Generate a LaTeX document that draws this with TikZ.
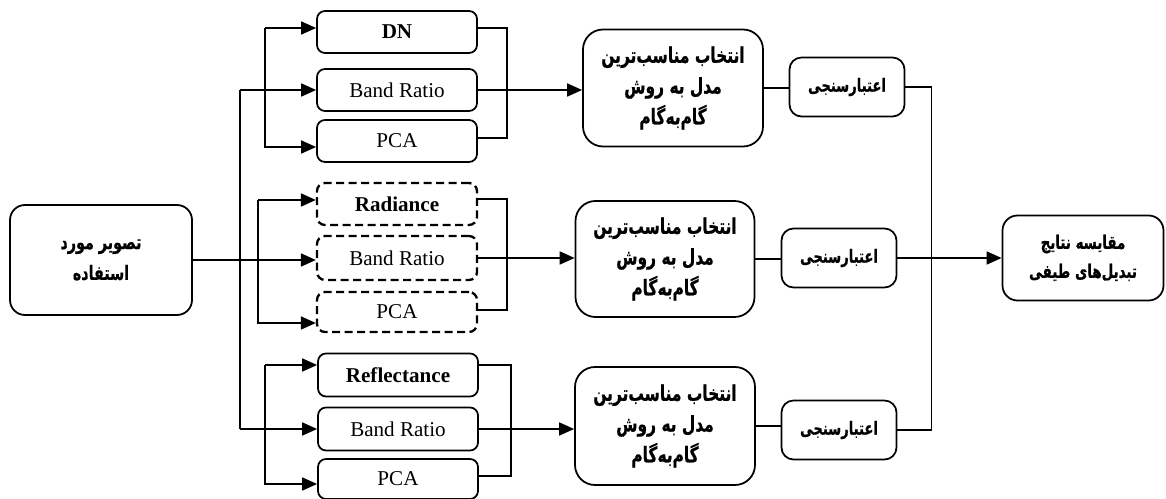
\documentclass[tikz,border=0pt]{standalone}
\usepackage{fontspec}
\setmainfont{Liberation Serif}
\newfontfamily\farsi[Script=Arabic, FakeStretch=0.72, BoldFeatures={FakeBold=0.6}]{DejaVu Sans}
\TeXXeTstate=1
\usetikzlibrary{arrows.meta}

% right-to-left line
\newcommand{\rl}[1]{\beginR #1\endR}

\begin{document}
\begin{tikzpicture}[x=0.2mm, y=-0.2mm,
  box/.style   ={draw, line width=1pt, rounded corners=1.6mm, inner sep=0pt,
                 minimum width=32mm, minimum height=8.4mm, font=\fontsize{12}{14}\selectfont},
  dbox/.style  ={box, line width=1.3pt, dash pattern=on 1.6mm off 0.9mm},
  bigbox/.style={draw, line width=1pt, rounded corners=4mm, inner sep=0pt, align=center,
                 font=\farsi\bfseries\fontsize{12.2}{17.5}\selectfont},
  valbox/.style={draw, line width=1pt, rounded corners=2.4mm, inner sep=0pt,
                 minimum width=23mm, minimum height=11.8mm,
                 font=\farsi\bfseries\fontsize{10.4}{13}\selectfont},
  ln/.style    ={line width=1pt},
  arr/.style   ={line width=1pt, -{Triangle[length=3mm, width=2.6mm]}}]

  \useasboundingbox (0,0) rectangle (1166,499);

  % ---------------- input image ----------------
  \node[bigbox, minimum width=36.4mm, minimum height=22mm, rounded corners=3mm,
        font=\farsi\bfseries\fontsize{11.3}{17.5}\selectfont] (src) at (101,260)
    {\rl{تصویر مورد}\\\rl{استفاده}};

  % ---------------- group 1 : DN ----------------
  \node[box] (dn1)  at (397,32)  {\textbf{DN}};
  \node[box] (br1)  at (397,90)  {Band Ratio};
  \node[box] (pca1) at (397,141) {PCA};

  % ---------------- group 2 : radiance (dashed) ----------------
  \node[dbox] (rad2) at (397,204) {\textbf{Radiance}};
  \node[dbox, minimum height=8.8mm] (br2)  at (397,258) {Band Ratio};
  \node[dbox, minimum height=8mm]   (pca2) at (397,312) {PCA};

  % ---------------- group 3 : reflectance ----------------
  \node[box, minimum height=8.6mm] (ref3) at (398,375) {\textbf{Reflectance}};
  \node[box, minimum height=8.6mm] (br3)  at (398,429) {Band Ratio};
  \node[box, minimum height=8mm]   (pca3) at (398,479) {PCA};

  % ---------------- stepwise model selection ----------------
  \node[bigbox, minimum width=36mm, minimum height=23.4mm] (sel1) at (673,88)
    {\rl{انتخاب مناسب^^^^200cترین}\\\rl{مدل به روش}\\\rl{گام^^^^200cبه^^^^200cگام}};
  \node[bigbox, minimum width=35.8mm, minimum height=23.2mm] (sel2) at (665,259)
    {\rl{انتخاب مناسب^^^^200cترین}\\\rl{مدل به روش}\\\rl{گام^^^^200cبه^^^^200cگام}};
  \node[bigbox, minimum width=36mm, minimum height=23.6mm] (sel3) at (665,426)
    {\rl{انتخاب مناسب^^^^200cترین}\\\rl{مدل به روش}\\\rl{گام^^^^200cبه^^^^200cگام}};

  % ---------------- validation ----------------
  \node[valbox] (val1) at (847,87)  {\rl{اعتبارسنجی}};
  \node[valbox] (val2) at (839,258) {\rl{اعتبارسنجی}};
  \node[valbox] (val3) at (839,430) {\rl{اعتبارسنجی}};

  % ---------------- comparison of results ----------------
  \node[bigbox, minimum width=32.2mm, minimum height=17mm, rounded corners=3mm,
        font=\farsi\bfseries\fontsize{10.6}{16.5}\selectfont] (res) at (1083,258)
    {\rl{مقایسه نتایج}\\\rl{تبدیل^^^^200cهای طیفی}};

  % ---------------- trunk from the input image ----------------
  \coordinate (trT) at (240,90);
  \coordinate (trB) at (240,429);
  \draw[arr] (src.east) -- (src.east -| br2.west);
  \draw[ln]  (trT) -- (trB);
  \draw[arr] (trT) -- (br1.west);
  \draw[arr] (trB) -- (br3.west);

  % ---------------- splitters into the side boxes ----------------
  \coordinate (s1a) at (265,28);  \coordinate (s1b) at (265,147);
  \coordinate (s2a) at (258,200); \coordinate (s2b) at (258,323);
  \coordinate (s3a) at (265,365); \coordinate (s3b) at (265,484);
  \draw[arr] (s1a) -- (s1a -| dn1.west);
  \draw[arr] (s1a) |- (s1b -| pca1.west);
  \draw[arr] (s2a) -- (s2a -| rad2.west);
  \draw[arr] (s2a) |- (s2b -| pca2.west);
  \draw[arr] (s3a) -- (s3a -| ref3.west);
  \draw[arr] (s3a) |- (s3b -| pca3.west);

  % ---------------- brackets on the right of each group ----------------
  \coordinate (b1a) at (507,28);  \coordinate (b1b) at (507,138);
  \coordinate (b2a) at (507,199); \coordinate (b2b) at (507,310);
  \coordinate (b3a) at (511,365); \coordinate (b3b) at (511,476);
  \draw[ln] (b1a -| dn1.east)  -- (b1a) -- (b1b) -- (b1b -| pca1.east);
  \draw[ln] (b2a -| rad2.east) -- (b2a) -- (b2b) -- (b2b -| pca2.east);
  \draw[ln] (b3a -| ref3.east) -- (b3a) -- (b3b) -- (b3b -| pca3.east);

  % ---------------- band ratio -> selection -> validation ----------------
  \draw[arr] (br1.east) -- (br1.east -| sel1.west);
  \draw[arr] (br2.east) -- (br2.east -| sel2.west);
  \draw[arr] (br3.east) -- (br3.east -| sel3.west);
  \draw[ln]  (sel1.east) -- (sel1.east -| val1.west);
  \draw[ln]  (sel2.east) -- (sel2.east -| val2.west);
  \draw[ln]  (sel3.east) -- (sel3.east -| val3.west);

  % ---------------- collect validations into the comparison ----------------
  \draw[ln]  (val1.east) -- ++(26,0) |- (val3.east);
  \draw[arr] (val2.east) -- (val2.east -| res.west);
\end{tikzpicture}
\end{document}
